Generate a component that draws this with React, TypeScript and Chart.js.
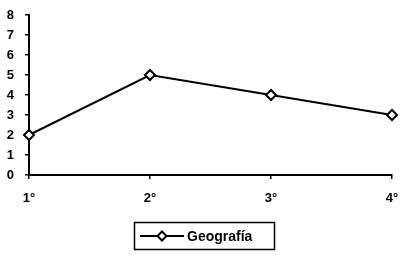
import React, { useEffect, useRef } from "react";
import { Chart, registerables } from "chart.js";

Chart.register(...registerables);

const categories = ["1°", "2°", "3°", "4°"];
const seriesLabel = "Geografía";
const seriesValues = [2, 5, 4, 3];
const yTicks = [0, 1, 2, 3, 4, 5, 6, 7, 8];

const FONT = "'Liberation Sans', Arial, sans-serif";

const legendPlugin = {
  id: "boxLegend",
  afterDraw(chart: any) {
    const ctx = chart.ctx;
    const ds = chart.data.datasets[0];
    ctx.save();
    ctx.strokeStyle = "#000";
    ctx.lineWidth = 1.5;
    ctx.strokeRect(134.5, 222.5, 140, 27);
    ctx.lineWidth = 2;
    ctx.beginPath();
    ctx.moveTo(140, 236);
    ctx.lineTo(184, 236);
    ctx.stroke();
    const cx = 162, cy = 236, r = 4.5;
    ctx.beginPath();
    ctx.moveTo(cx, cy - r);
    ctx.lineTo(cx + r, cy);
    ctx.lineTo(cx, cy + r);
    ctx.lineTo(cx - r, cy);
    ctx.closePath();
    ctx.fillStyle = "#fff";
    ctx.fill();
    ctx.stroke();
    ctx.fillStyle = "#000";
    ctx.font = `bold 14px ${FONT}`;
    ctx.textBaseline = "middle";
    ctx.textAlign = "left";
    ctx.fillText(ds.label, 187, 237);
    ctx.restore();
  },
};

export default function App() {
  const ref = useRef<HTMLCanvasElement>(null);
  useEffect(() => {
    if (!ref.current) return;
    const chart = new Chart(ref.current, {
      type: "line",
      data: {
        labels: categories,
        datasets: [
          {
            label: seriesLabel,
            data: seriesValues,
            borderColor: "#000",
            borderWidth: 2,
            pointStyle: "rectRot",
            pointRadius: 5,
            pointBackgroundColor: "#fff",
            pointBorderColor: "#000",
            pointBorderWidth: 2,
            tension: 0,
          },
        ],
      },
      options: {
        animation: false,
        responsive: false,
        devicePixelRatio: 1,
        layout: { padding: { left: 0, right: 10, top: 15, bottom: 0 } },
        plugins: { legend: { display: false }, tooltip: { enabled: false } },
        scales: {
          x: {
            type: "category",
            offset: false,
            grid: { display: true, drawOnChartArea: false, drawTicks: true, tickLength: 4, color: "#000", lineWidth: 1.5 },
            border: { display: true, color: "#000", width: 2 },
            ticks: { color: "#000", font: { family: FONT, size: 13, weight: "bold" }, padding: 12, maxRotation: 0, autoSkip: false },
            afterFit: (s: any) => { s.height = 80; s.paddingLeft = 0; s.paddingRight = 0; },
          },
          y: {
            min: 0,
            max: 8,
            afterBuildTicks: (s: any) => { s.ticks = yTicks.map((v) => ({ value: v })); },
            grid: { display: true, drawOnChartArea: false, drawTicks: true, tickLength: 4, color: "#000", lineWidth: 1.5 },
            border: { display: true, color: "#000", width: 2 },
            ticks: { color: "#000", font: { family: FONT, size: 13, weight: "bold" }, padding: 11 },
            afterFit: (s: any) => { s.width = 29; s.paddingTop = 0; s.paddingBottom = 0; },
          },
        },
      },
      plugins: [legendPlugin],
    });
    return () => chart.destroy();
  }, []);
  return (
    <div style={{ position: "absolute", left: 0, top: 0, width: 402, height: 255, background: "#fff" }}>
      <canvas ref={ref} width={402} height={255} style={{ width: 402, height: 255 }} />
    </div>
  );
}
